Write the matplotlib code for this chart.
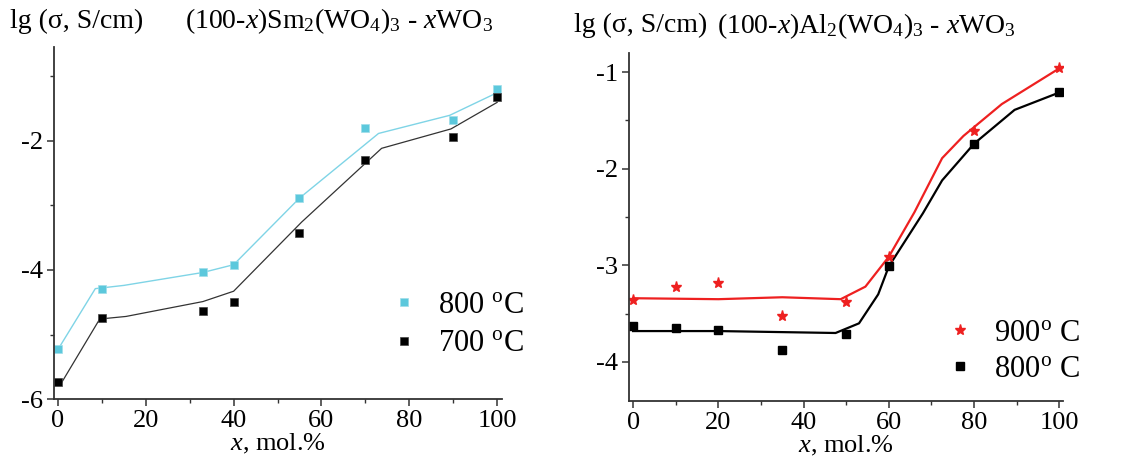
import matplotlib
matplotlib.use("Agg")
import matplotlib.pyplot as plt
from matplotlib.ticker import MultipleLocator

plt.rcParams['font.family'] = ['Liberation Serif', 'DejaVu Serif']
plt.rcParams['mathtext.fontset'] = 'custom'
plt.rcParams['mathtext.rm'] = 'Liberation Serif'
plt.rcParams['mathtext.it'] = 'Liberation Serif:italic'
plt.rcParams['axes.unicode_minus'] = False

# ---- left panel: (100-x)Sm2(WO4)3 - xWO3 ----
sm_x = [0, 10, 33, 40, 55, 70, 90, 100]
sm_800 = [-5.23, -4.29, -4.04, -3.92, -2.89, -1.80, -1.68, -1.21]
sm_700 = [-5.74, -4.74, -4.63, -4.49, -3.43, -2.30, -1.95, -1.33]
sm_fit800_x = [0, 8.5, 15, 33, 40, 55, 73, 89.2, 100]
sm_fit800_y = [-5.23, -4.29, -4.24, -4.04, -3.92, -2.89, -1.89, -1.61, -1.26]
sm_fit700_x = [0.5, 9.5, 15.5, 33, 40, 55.5, 73.7, 89.5, 100]
sm_fit700_y = [-5.78, -4.76, -4.72, -4.49, -4.33, -3.26, -2.12, -1.82, -1.41]

# ---- right panel: (100-x)Al2(WO4)3 - xWO3 ----
al_x = [0, 10, 20, 35, 50, 60, 80, 100]
al_900 = [-3.36, -3.22, -3.18, -3.52, -3.38, -2.91, -1.61, -0.96]
al_800 = [-3.63, -3.65, -3.67, -3.88, -3.71, -3.01, -1.74, -1.21]
al_fit900_x = [0, 20, 35, 48.7, 54.5, 60, 66, 72.5, 77.5, 86.5, 100]
al_fit900_y = [-3.34, -3.35, -3.33, -3.35, -3.22, -2.91, -2.45, -1.89, -1.66, -1.33, -0.96]
al_fit800_x = [0, 20, 47.5, 53, 57.5, 60, 68, 72.5, 80, 89.5, 100]
al_fit800_y = [-3.68, -3.68, -3.70, -3.60, -3.30, -3.01, -2.46, -2.12, -1.74, -1.39, -1.21]

fs = 19
fig = plt.figure(figsize=(11.33, 4.68), dpi=100)
ax1 = fig.add_axes([0.0477, 0.147, 0.3953, 0.753])
ax2 = fig.add_axes([0.5554, 0.144, 0.3826, 0.743])

cyan = '#5cc8dc'
ax1.plot(sm_fit800_x, sm_fit800_y, color='#7fd4e6', lw=1.0)
ax1.plot(sm_fit700_x, sm_fit700_y, color='#333333', lw=0.9)
h1 = ax1.plot(sm_x, sm_800, 's', color=cyan, ms=6, mec='#9fdeea', mew=0.5, ls='none', label='800 $^{\\rm o}$C')[0]
h2 = ax1.plot(sm_x, sm_700, 's', color='black', ms=6, mec='#444444', mew=0.5, ls='none', label='700 $^{\\rm o}$C')[0]
ax1.set_xlim(-0.9, 101.1)
ax1.set_ylim(-6, -0.55)
ax1.yaxis.set_major_locator(MultipleLocator(2))
ax1.yaxis.set_minor_locator(MultipleLocator(1))
ax1.legend(handles=[h1, h2], loc='upper left', bbox_to_anchor=(0.727, 0.35), frameon=False,
           fontsize=22, handlelength=0.6, handletextpad=0.8, labelspacing=0.3, borderpad=0,
           markerscale=0.9)

ax2.plot(al_fit900_x, al_fit900_y, color='#ee2020', lw=1.6)
ax2.plot(al_fit800_x, al_fit800_y, color='black', lw=1.6)
h3 = ax2.plot(al_x, al_900, '*', color='#ee2020', ms=8, ls='none', label='900$^{\\rm o}$ C')[0]
h4 = ax2.plot(al_x, al_800, 's', color='black', ms=5.5, ls='none', label='800$^{\\rm o}$ C')[0]
ax2.set_xlim(-0.9, 100.8)
ax2.set_ylim(-4.40, -0.80)
ax2.yaxis.set_major_locator(MultipleLocator(1))
ax2.yaxis.set_minor_locator(MultipleLocator(0.5))
ax2.legend(handles=[h3, h4], loc='upper left', bbox_to_anchor=(0.707, 0.28), frameon=False,
           fontsize=22, handlelength=0.6, handletextpad=0.8, labelspacing=0.25, borderpad=0)

for ax in (ax1, ax2):
    ax.spines['top'].set_visible(False)
    ax.spines['right'].set_visible(False)
    for s in ('left', 'bottom'):
        ax.spines[s].set_linewidth(1.3)
        ax.spines[s].set_color('#333333')
    ax.xaxis.set_major_locator(MultipleLocator(20))
    ax.xaxis.set_minor_locator(MultipleLocator(10))
    ax.tick_params(which='major', direction='out', length=5, width=1.1, labelsize=fs, color='#333333', pad=3)
    ax.tick_params(which='minor', direction='out', length=3, width=1.0, color='#333333')
    ax.set_xlabel('$x$, mol.%', fontsize=fs, labelpad=0)

ft = 20
fig.text(0.009, 0.955, 'lg (σ, S/cm)', fontsize=ft, va='center', ha='left')
fig.text(0.163, 0.955, '(100-$x$)Sm$_2$(WO$_4$)$_3$ - $x$WO$_3$', fontsize=ft, va='center', ha='left')
fig.text(0.507, 0.945, 'lg (σ, S/cm)', fontsize=ft, va='center', ha='left')
fig.text(0.633, 0.945, '(100-$x$)Al$_2$(WO$_4$)$_3$ - $x$WO$_3$', fontsize=ft, va='center', ha='left')

fig.savefig('out.png', dpi=100)
